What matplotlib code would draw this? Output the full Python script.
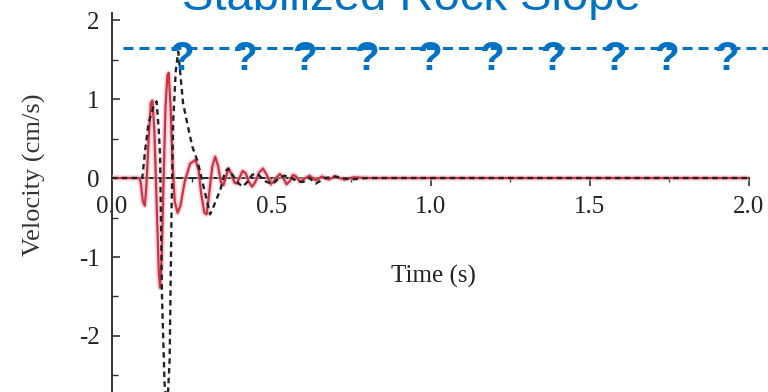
import matplotlib
matplotlib.use("Agg")
import matplotlib.pyplot as plt
from matplotlib.lines import Line2D
from matplotlib.ticker import MultipleLocator, FixedLocator

plt.rcParams['axes.unicode_minus'] = False
plt.rcParams['lines.scale_dashes'] = False

# ---- data ----
time_red = [0.0, 0.05, 0.085, 0.09, 0.097, 0.103, 0.108, 0.115, 0.122, 0.127, 0.133, 0.14,
            0.147, 0.151, 0.156, 0.162, 0.168, 0.174, 0.178, 0.184, 0.19, 0.197, 0.206,
            0.215, 0.228, 0.245, 0.262, 0.272, 0.28, 0.29, 0.297, 0.305, 0.315, 0.324,
            0.333, 0.342, 0.35, 0.358, 0.366, 0.375, 0.385, 0.392, 0.40, 0.41, 0.42,
            0.43, 0.44, 0.45, 0.462, 0.474, 0.486, 0.497, 0.505, 0.515, 0.527, 0.538,
            0.548, 0.558, 0.568, 0.578, 0.59, 0.60, 0.62, 0.64, 0.66, 0.68, 0.70, 0.73,
            0.76, 0.80, 1.0, 1.25, 1.5, 1.75, 2.0]
vel_red = [0.0, 0.0, 0.0, -0.05, -0.3, -0.35, -0.1, 0.5, 0.95, 0.98, 0.6, -0.3,
           -1.2, -1.39, -1.0, 0.0, 0.9, 1.3, 1.33, 0.9, 0.2, -0.3, -0.44,
           -0.35, -0.05, 0.18, 0.23, 0.1, -0.2, -0.44, -0.46, -0.2, 0.15, 0.27,
           0.15, -0.05, -0.09, 0.02, 0.12, 0.05, -0.06, -0.07, 0.0, 0.09, 0.06,
           -0.05, -0.11, -0.05, 0.07, 0.12, 0.04, -0.07, -0.06, 0.0, 0.05, 0.0,
           -0.08, -0.04, 0.04, 0.02, -0.05, -0.02, 0.03, -0.03, 0.02, -0.02, 0.02, -0.02,
           0.01, 0.0, 0.0, 0.0, 0.0, 0.0, 0.0]

time_black = [0.0, 0.085, 0.095, 0.104, 0.115, 0.13, 0.14, 0.147, 0.151, 0.157, 0.165,
              0.173, 0.181, 0.187, 0.192, 0.2, 0.208, 0.215, 0.223, 0.239, 0.252, 0.267,
              0.277, 0.29, 0.308, 0.32, 0.34, 0.355, 0.365, 0.38, 0.395, 0.41, 0.425,
              0.44, 0.455, 0.47, 0.485, 0.506, 0.52, 0.54, 0.56, 0.58, 0.60, 0.62, 0.64,
              0.67, 0.70, 0.75, 0.80, 1.0, 1.5, 2.0]
vel_black = [0.0, 0.0, 0.0, 0.35, 0.7, 0.9, 0.97, 0.6, 0.27, -1.5, -2.6,
             -2.95, -2.3, -0.4, 0.7, 1.35, 1.6, 1.3, 0.95, 0.64, 0.4, 0.23,
             0.07, -0.15, -0.46, -0.35, -0.15, 0.08, 0.12, 0.03, -0.06, -0.11, -0.05,
             0.04, 0.06, 0.0, -0.05, -0.07, -0.02, 0.03, 0.01, -0.04, -0.05, 0.0, -0.07,
             0.0, 0.02, -0.02, 0.0, 0.0, 0.0, 0.0]

x_ticks = [0.0, 0.5, 1.0, 1.5, 2.0]
x_ticklabels = ["0.0", "0.5", "1.0", "1.5", "2.0"]
y_ticks = [-2, -1, 0, 1, 2]
y_ticklabels = ["-2", "-1", "0", "1", "2"]

title_text = "Stabilized Rock Slope"
xlabel_text = "Time (s)"
ylabel_text = "Velocity (cm/s)"

# ---- figure ----
W, H = 768, 392
fig = plt.figure(figsize=(W / 100, H / 100), dpi=100)
ax = fig.add_axes([112 / W, 0.0, 637 / W, (H - 13) / H])
ax.set_xlim(0, 2.0)
ax.set_ylim(-2.709, 2.089)

serif = "Liberation Serif"
blue = "#0072C6"

ax.plot(time_red, vel_red, color="#f3b8c0", lw=4.0, alpha=0.6, zorder=3, solid_capstyle="round")
ax.plot(time_red, vel_red, color="#cc3245", lw=1.6, zorder=4)
ax.plot(time_black, vel_black, color="#222222", lw=1.7, dashes=(4.0, 3.0), zorder=5)

for s in ["top", "right"]:
    ax.spines[s].set_visible(False)
ax.spines["bottom"].set_position(("data", 0))
ax.spines["bottom"].set_color("#222222")
ax.spines["bottom"].set_linewidth(1.4)
ax.spines["bottom"].set_zorder(2)
ax.spines["left"].set_color("#333333")
ax.spines["left"].set_linewidth(1.4)

ax.xaxis.set_major_locator(FixedLocator(x_ticks))
ax.set_xticklabels(x_ticklabels)
ax.xaxis.set_minor_locator(MultipleLocator(0.25))
ax.yaxis.set_major_locator(FixedLocator(y_ticks))
ax.set_yticklabels(y_ticklabels)
ax.yaxis.set_minor_locator(MultipleLocator(0.5))

ax.tick_params(axis="x", which="major", direction="out", length=6, width=1.2, pad=7,
               labelsize=18, colors="#333333", labelcolor="#222222")
ax.tick_params(axis="x", which="minor", direction="out", length=3, width=1.0, colors="#333333")
ax.tick_params(axis="y", which="major", direction="in", length=6, width=1.2, pad=9,
               labelsize=18, colors="#333333", labelcolor="#222222")
ax.tick_params(axis="y", which="minor", direction="in", length=4, width=1.0, colors="#333333")
for lab in ax.get_xticklabels() + ax.get_yticklabels():
    lab.set_fontfamily(serif)

ax.set_xlabel(xlabel_text, fontsize=18, family=serif, color="#222222")
ax.xaxis.set_label_coords((433 - 112) / 637, (H - 276) / (H - 13))
ax.xaxis.label.set_va("center")
ax.set_ylabel(ylabel_text, fontsize=19, family=serif, color="#333333")
ax.yaxis.set_label_coords((34 - 112) / 637, (H - 175) / (H - 13))
ax.yaxis.label.set_va("center")

# ---- overlay title and dashed '?' line ----
fig.text(411 / W, 1 - 10 / H, title_text, ha="center", va="baseline",
         fontsize=34, family="Liberation Sans", color=blue)

fig.add_artist(Line2D([123 / W, 1.0], [1 - 48 / H, 1 - 48 / H], transform=fig.transFigure,
                      color=blue, lw=2.2, dashes=(7.2, 4.3)))
q_positions = [182, 245, 305, 367, 430, 492, 553, 615, 667, 727]
for px in q_positions:
    fig.text(px / W, 1 - 70 / H, "?", ha="center", va="baseline",
             fontsize=29, fontweight="bold", family="Liberation Sans", color=blue)

fig.savefig("out.png", dpi=100)
